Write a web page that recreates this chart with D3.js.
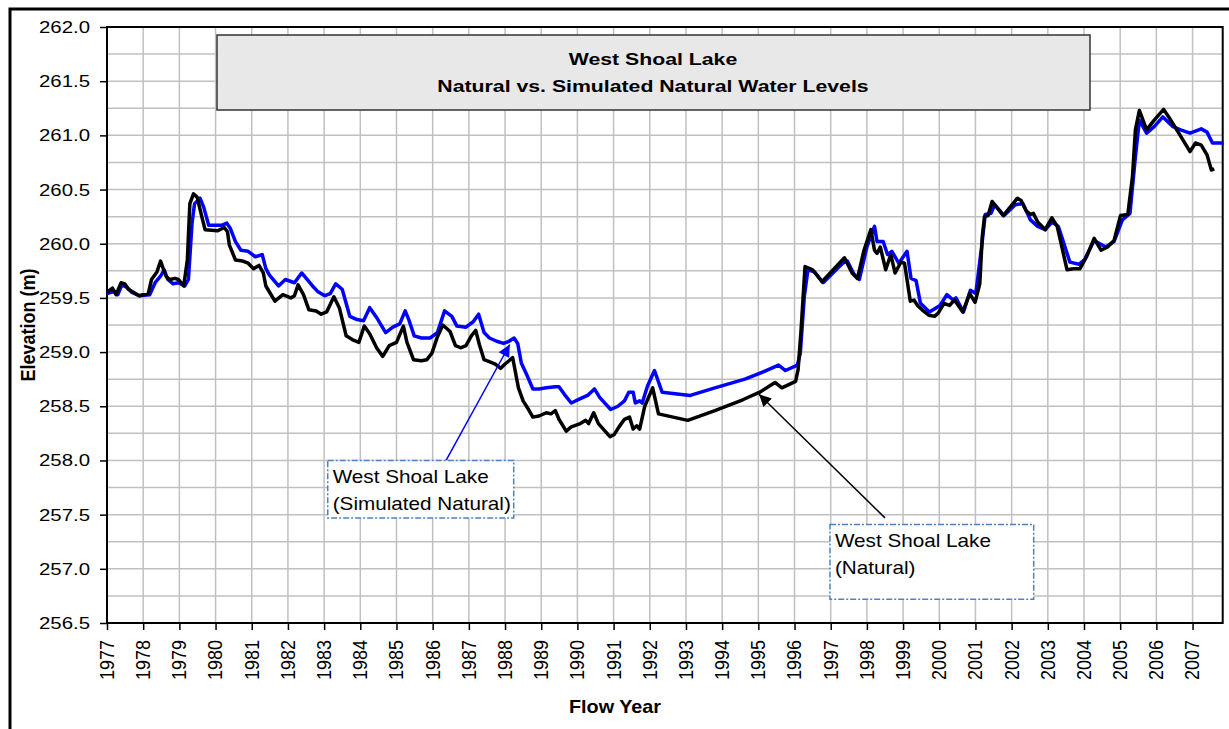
<!DOCTYPE html>
<html>
<head>
<meta charset="utf-8">
<script src="https://cdn.jsdelivr.net/npm/d3@7"></script>
<style>
    body { margin: 0; background: #fff; }
    text { font-family: "Liberation Sans", Arial, sans-serif; fill: #000; }
</style>
</head>
<body>
<div id="chart"></div>
<script>

// West Shoal Lake levels: [flow year, elevation m]
var naturalLevels = [
    [1977.00, 259.55], [1977.15, 259.59], [1977.25, 259.53], [1977.39, 259.64], [1977.49, 259.63],
    [1977.59, 259.58], [1977.89, 259.52], [1978.14, 259.54], [1978.23, 259.67], [1978.38, 259.74],
    [1978.48, 259.84], [1978.63, 259.70], [1978.73, 259.67], [1978.88, 259.68], [1978.97, 259.67],
    [1979.12, 259.61], [1979.22, 259.85], [1979.29, 260.37], [1979.39, 260.46], [1979.49, 260.43],
    [1979.62, 260.25], [1979.71, 260.13], [1980.06, 260.12], [1980.24, 260.15], [1980.33, 260.11],
    [1980.38, 259.99], [1980.55, 259.85], [1980.75, 259.84], [1980.90, 259.82], [1981.05, 259.77],
    [1981.20, 259.80], [1981.32, 259.73], [1981.39, 259.61], [1981.64, 259.47], [1981.86, 259.53],
    [1982.08, 259.50], [1982.18, 259.52], [1982.28, 259.62], [1982.43, 259.53], [1982.58, 259.39],
    [1982.78, 259.38], [1982.92, 259.35], [1983.07, 259.37], [1983.27, 259.51], [1983.42, 259.41],
    [1983.61, 259.15], [1983.81, 259.11], [1983.96, 259.09], [1984.11, 259.24], [1984.26, 259.17],
    [1984.45, 259.04], [1984.62, 258.96], [1984.80, 259.06], [1985.00, 259.09], [1985.19, 259.24],
    [1985.29, 259.09], [1985.47, 258.93], [1985.69, 258.92], [1985.84, 258.93], [1985.98, 258.99],
    [1986.13, 259.14], [1986.28, 259.25], [1986.48, 259.19], [1986.63, 259.06], [1986.77, 259.04],
    [1986.92, 259.06], [1987.07, 259.15], [1987.19, 259.20], [1987.29, 259.07], [1987.42, 258.93],
    [1987.58, 258.91], [1987.73, 258.89], [1987.88, 258.85], [1988.00, 258.89], [1988.11, 258.92],
    [1988.21, 258.95], [1988.37, 258.67], [1988.50, 258.55], [1988.65, 258.47], [1988.77, 258.40],
    [1988.94, 258.41], [1989.14, 258.44], [1989.27, 258.43], [1989.39, 258.46], [1989.49, 258.38],
    [1989.69, 258.27], [1989.83, 258.31], [1990.08, 258.34], [1990.23, 258.37], [1990.31, 258.34],
    [1990.45, 258.44], [1990.58, 258.34], [1990.90, 258.22], [1991.02, 258.24], [1991.15, 258.31],
    [1991.30, 258.38], [1991.44, 258.40], [1991.54, 258.29], [1991.64, 258.32], [1991.72, 258.29],
    [1991.86, 258.50], [1992.08, 258.67], [1992.24, 258.43], [1993.05, 258.37], [1993.80, 258.46],
    [1994.57, 258.56], [1995.04, 258.63], [1995.46, 258.72], [1995.65, 258.67], [1996.03, 258.73],
    [1996.10, 258.84], [1996.18, 259.20], [1996.29, 259.79], [1996.50, 259.76], [1996.76, 259.65],
    [1997.38, 259.87], [1997.59, 259.73], [1997.74, 259.68], [1997.92, 259.94], [1998.11, 260.13],
    [1998.21, 259.94], [1998.28, 259.91], [1998.37, 259.97], [1998.52, 259.76], [1998.66, 259.90],
    [1998.78, 259.73], [1998.94, 259.83], [1999.04, 259.82], [1999.20, 259.47], [1999.30, 259.48],
    [1999.40, 259.43], [1999.56, 259.38], [1999.71, 259.34], [1999.87, 259.33], [1999.97, 259.36],
    [2000.13, 259.45], [2000.28, 259.43], [2000.42, 259.48], [2000.65, 259.37], [2000.84, 259.54],
    [2000.99, 259.46], [2001.12, 259.63], [2001.19, 260.07], [2001.25, 260.25], [2001.35, 260.26],
    [2001.46, 260.39], [2001.77, 260.26], [2002.16, 260.42], [2002.26, 260.40], [2002.41, 260.30],
    [2002.52, 260.27], [2002.60, 260.28], [2002.72, 260.20], [2002.93, 260.13], [2003.11, 260.24],
    [2003.26, 260.16], [2003.53, 259.76], [2003.71, 259.77], [2003.89, 259.77], [2004.07, 259.88],
    [2004.28, 260.05], [2004.47, 259.94], [2004.65, 259.97], [2004.83, 260.03], [2005.01, 260.26],
    [2005.21, 260.27], [2005.34, 260.62], [2005.42, 261.05], [2005.53, 261.23], [2005.73, 261.05],
    [2005.94, 261.14], [2006.20, 261.24], [2006.36, 261.16], [2006.62, 261.02], [2006.93, 260.85],
    [2007.08, 260.93], [2007.24, 260.91], [2007.40, 260.82], [2007.52, 260.68], [2007.60, 260.69]
];

var simulatedLevels = [
    [1977.00, 259.54], [1977.20, 259.56], [1977.30, 259.53], [1977.41, 259.62], [1977.54, 259.60],
    [1977.69, 259.55], [1977.89, 259.52], [1978.18, 259.53], [1978.33, 259.64], [1978.48, 259.70],
    [1978.58, 259.76], [1978.68, 259.67], [1978.83, 259.63], [1978.97, 259.64], [1979.15, 259.61],
    [1979.25, 259.67], [1979.35, 260.19], [1979.42, 260.37], [1979.57, 260.42], [1979.67, 260.34],
    [1979.81, 260.17], [1980.16, 260.17], [1980.31, 260.19], [1980.41, 260.14], [1980.55, 260.02],
    [1980.70, 259.94], [1980.90, 259.93], [1981.10, 259.88], [1981.29, 259.90], [1981.39, 259.77],
    [1981.49, 259.71], [1981.74, 259.61], [1981.93, 259.67], [1982.18, 259.64], [1982.38, 259.73],
    [1982.53, 259.67], [1982.68, 259.61], [1982.82, 259.56], [1983.02, 259.52], [1983.17, 259.54],
    [1983.32, 259.63], [1983.50, 259.58], [1983.71, 259.33], [1983.91, 259.30], [1984.09, 259.29],
    [1984.26, 259.41], [1984.45, 259.32], [1984.70, 259.18], [1984.90, 259.23], [1985.09, 259.26],
    [1985.24, 259.38], [1985.34, 259.30], [1985.49, 259.15], [1985.69, 259.13], [1985.93, 259.13],
    [1986.13, 259.18], [1986.33, 259.38], [1986.53, 259.33], [1986.67, 259.24], [1986.92, 259.23],
    [1987.12, 259.28], [1987.27, 259.35], [1987.42, 259.18], [1987.57, 259.13], [1987.77, 259.10],
    [1987.96, 259.08], [1988.11, 259.10], [1988.25, 259.13], [1988.35, 259.08], [1988.45, 258.90],
    [1988.60, 258.79], [1988.77, 258.66], [1988.94, 258.66], [1989.14, 258.67], [1989.39, 258.68],
    [1989.49, 258.68], [1989.64, 258.61], [1989.83, 258.53], [1990.08, 258.57], [1990.28, 258.60],
    [1990.47, 258.66], [1990.62, 258.58], [1990.92, 258.47], [1991.12, 258.50], [1991.30, 258.55],
    [1991.42, 258.63], [1991.54, 258.63], [1991.60, 258.53], [1991.72, 258.55], [1991.79, 258.53],
    [1991.94, 258.69], [1992.13, 258.83], [1992.34, 258.63], [1993.12, 258.60], [1993.80, 258.67],
    [1994.63, 258.75], [1995.15, 258.82], [1995.56, 258.88], [1995.75, 258.83], [1996.08, 258.88],
    [1996.16, 258.99], [1996.27, 259.51], [1996.37, 259.76], [1996.55, 259.74], [1996.79, 259.64],
    [1997.33, 259.82], [1997.46, 259.84], [1997.64, 259.72], [1997.79, 259.67], [1998.00, 259.97],
    [1998.21, 260.16], [1998.28, 260.02], [1998.45, 260.02], [1998.57, 259.90], [1998.69, 259.93],
    [1998.88, 259.82], [1999.11, 259.93], [1999.22, 259.68], [1999.36, 259.66], [1999.48, 259.45],
    [1999.73, 259.37], [2000.02, 259.43], [2000.21, 259.53], [2000.39, 259.48], [2000.46, 259.50],
    [2000.67, 259.37], [2000.86, 259.57], [2001.01, 259.54], [2001.17, 259.97], [2001.27, 260.27],
    [2001.43, 260.28], [2001.53, 260.36], [2001.79, 260.26], [2002.10, 260.36], [2002.31, 260.37],
    [2002.52, 260.22], [2002.72, 260.16], [2002.93, 260.13], [2003.12, 260.20], [2003.29, 260.16],
    [2003.61, 259.83], [2003.86, 259.81], [2004.01, 259.85], [2004.28, 260.03], [2004.60, 259.97],
    [2004.83, 260.02], [2005.06, 260.22], [2005.27, 260.28], [2005.42, 260.80], [2005.53, 261.14],
    [2005.73, 261.02], [2005.94, 261.08], [2006.18, 261.17], [2006.46, 261.08], [2006.67, 261.05],
    [2006.93, 261.02], [2007.08, 261.04], [2007.24, 261.06], [2007.40, 261.03], [2007.55, 260.93],
    [2007.86, 260.93]
];

var yearTicks = d3.range(1977, 2008);          // 1977 ... 2007
var elevationTicks = d3.range(256.5, 262.01, 0.5);
var titleLines = ['West Shoal Lake', 'Natural vs. Simulated Natural Water Levels'];
var simLabel = ['West Shoal Lake', '(Simulated Natural)'];
var natLabel = ['West Shoal Lake', '(Natural)'];

var width = 1229, height = 729;
var SX = 1.2;   // the source picture is stretched sideways, so text is too

var svg = d3.select('#chart')
    .append('svg')
    .attr('width', width)
    .attr('height', height);

var x = d3.scaleLinear().domain([1977, 2007.833]).range([107, 1222.7]);
var y = d3.scaleLinear().domain([256.5, 262]).range([623, 27]);

// text helper: places a label and widens it like the original
function label(parent, px, py, str, opts) {
    opts = opts || {};
    var g = parent.append('g')
        .attr('transform', 'translate(' + px + ',' + py + ') scale(' + (opts.sx || SX) + ',1)' + (opts.rotate ? ' rotate(' + opts.rotate + ')' : ''));
    return g.append('text')
        .attr('text-anchor', opts.anchor || 'start')
        .attr('dy', opts.dy || 0)
        .style('font-size', (opts.size || 17) + 'px')
        .style('font-weight', opts.bold ? 'bold' : 'normal')
        .text(str);
}

// outer frame
svg.append('rect')
    .attr('x', 10).attr('y', 9)
    .attr('width', 1400).attr('height', 900)
    .attr('fill', 'none')
    .attr('stroke', '#000')
    .attr('stroke-width', 3);

// gridlines
var grid = svg.append('g').attr('class', 'grid');
grid.selectAll('.hgrid')
    .data(d3.range(256.75, 262, 0.25))
    .enter().append('line')
    .attr('x1', x.range()[0]).attr('x2', x.range()[1])
    .attr('y1', d => y(d)).attr('y2', d => y(d))
    .attr('stroke', '#c0c0c0').attr('stroke-width', 1.5);

grid.selectAll('.vgrid')
    .data(yearTicks.slice(1))
    .enter().append('line')
    .attr('x1', d => x(d)).attr('x2', d => x(d))
    .attr('y1', y.range()[0]).attr('y2', y.range()[1])
    .attr('stroke', '#c0c0c0').attr('stroke-width', 1.5);

// plot border
svg.append('rect')
    .attr('x', x.range()[0]).attr('y', y.range()[1])
    .attr('width', x.range()[1] - x.range()[0])
    .attr('height', y.range()[0] - y.range()[1])
    .attr('fill', 'none')
    .attr('stroke', '#000')
    .attr('stroke-width', 2);

// axes (ticks only, labels drawn separately)
svg.append('g')
    .attr('transform', 'translate(0,' + y.range()[0] + ')')
    .call(d3.axisBottom(x).tickValues(yearTicks).tickSize(7).tickFormat(''))
    .call(g => g.select('.domain').remove())
    .call(g => g.selectAll('line').attr('stroke-width', 1.5));

svg.append('g')
    .attr('transform', 'translate(' + x.range()[0] + ',0)')
    .call(d3.axisLeft(y).tickValues(elevationTicks).tickSize(7).tickFormat(''))
    .call(g => g.select('.domain').remove())
    .call(g => g.selectAll('line').attr('stroke-width', 1.5));

elevationTicks.forEach(function (v) {
    label(svg, 90, y(v), d3.format('.1f')(v), { anchor: 'end', dy: '0.35em', size: 17 });
});

yearTicks.forEach(function (yr) {
    label(svg, x(yr), 640, String(yr), { anchor: 'end', dy: '0.35em', size: 18, rotate: -90, sx: 1.1 });
});

// axis titles
label(svg, 615, 713, 'Flow Year', { anchor: 'middle', size: 18, bold: true, sx: 1.1 });
label(svg, 28, 325, 'Elevation (m)', { anchor: 'middle', dy: '0.35em', size: 18, bold: true, rotate: -90, sx: 1.1 });

// title box
svg.append('rect')
    .attr('x', 217).attr('y', 35)
    .attr('width', 873).attr('height', 75)
    .attr('fill', '#e8e8e8')
    .attr('stroke', '#333')
    .attr('stroke-width', 1.5);

titleLines.forEach(function (t, i) {
    label(svg, 653, 65 + i * 27, t, { anchor: 'middle', size: 17, bold: true, sx: 1.25 });
});

// series
var line = d3.line()
    .x(d => x(d[0]))
    .y(d => y(d[1]));

svg.append('path')
    .datum(simulatedLevels)
    .attr('fill', 'none')
    .attr('stroke', '#0000ff')
    .attr('stroke-width', 3.5)
    .attr('stroke-linejoin', 'round')
    .attr('d', line);

svg.append('path')
    .datum(naturalLevels)
    .attr('fill', 'none')
    .attr('stroke', '#000')
    .attr('stroke-width', 3.5)
    .attr('stroke-linejoin', 'round')
    .attr('d', line);

// callouts
var defs = svg.append('defs');
[['arrowBlue', '#0000ff'], ['arrowBlack', '#000']].forEach(function (m) {
    defs.append('marker')
        .attr('id', m[0])
        .attr('viewBox', '0 0 10 10')
        .attr('refX', 10).attr('refY', 5)
        .attr('markerWidth', 14).attr('markerHeight', 12)
        .attr('markerUnits', 'userSpaceOnUse')
        .attr('orient', 'auto')
        .append('path')
        .attr('d', 'M0,0 L10,5 L0,10 Z')
        .attr('fill', m[1]);
});

function callout(box, lines, from, to, colour, marker) {
    svg.append('line')
        .attr('x1', x(from[0])).attr('y1', y(from[1]))
        .attr('x2', x(to[0])).attr('y2', y(to[1]))
        .attr('stroke', colour)
        .attr('stroke-width', 1.5)
        .attr('marker-end', 'url(#' + marker + ')');

    svg.append('rect')
        .attr('x', x(box[0])).attr('y', y(box[1]))
        .attr('width', x(box[2]) - x(box[0]))
        .attr('height', y(box[3]) - y(box[1]))
        .attr('fill', '#fff')
        .attr('stroke', '#4f81bd')
        .attr('stroke-width', 1.5)
        .attr('stroke-dasharray', '6,2,2,2');

    lines.forEach(function (t, i) {
        label(svg, x(box[0]) + 5, y(box[1]) + 23 + i * 26.5, t, { size: 18, sx: 1.15 });
    });
}

// box: [x0 year, top elev, x1 year, bottom elev]
callout([1983.10, 258.00, 1988.24, 257.47], simLabel, [1986.37, 258.00], [1988.13, 259.07], '#0000ff', 'arrowBlue');
callout([1996.98, 257.41, 2002.61, 256.72], natLabel, [1998.50, 257.47], [1995.02, 258.61], '#000', 'arrowBlack');

</script>
</body>
</html>
